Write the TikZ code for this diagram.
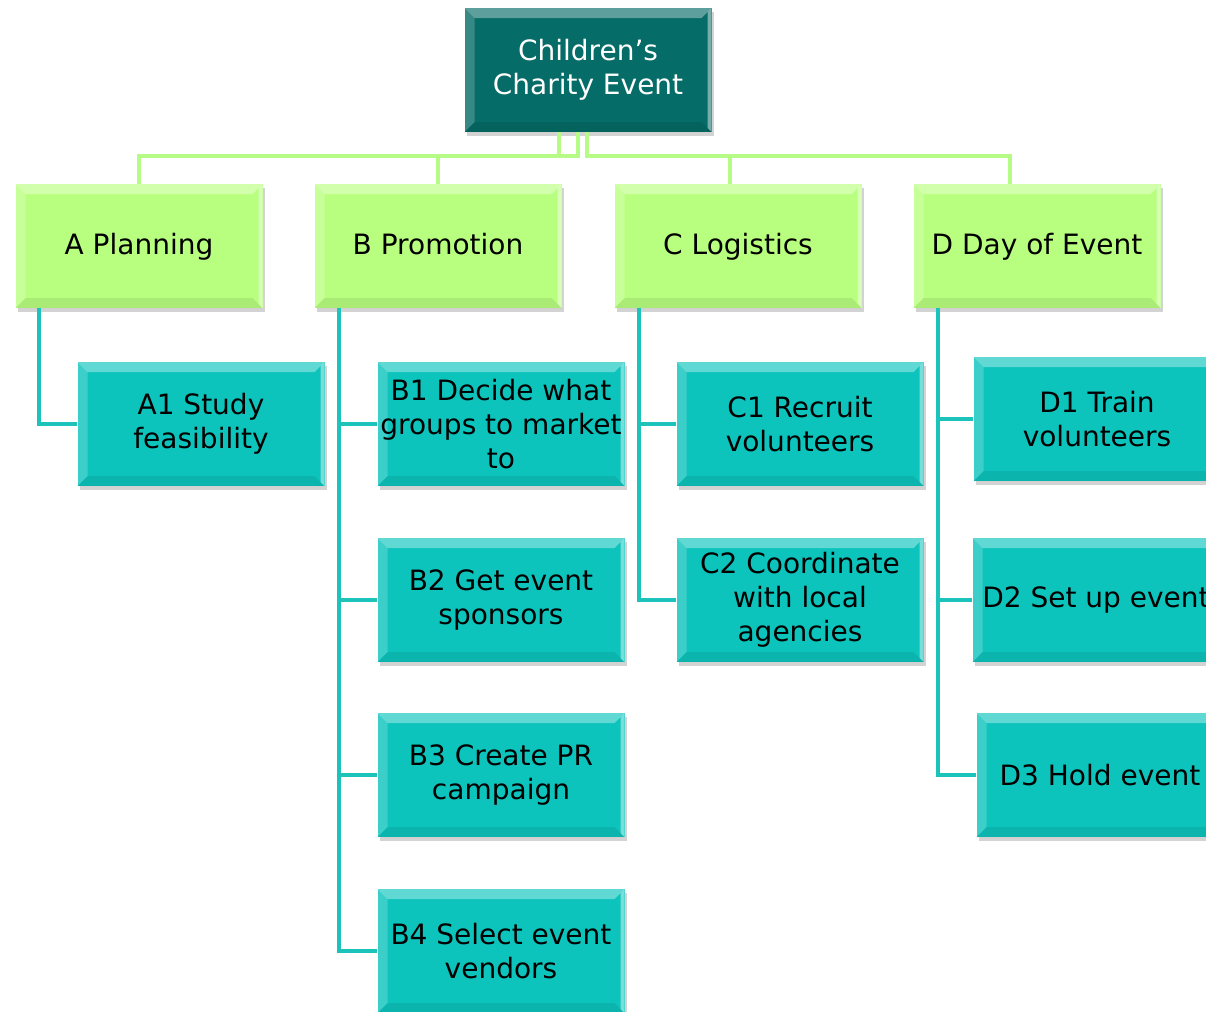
\documentclass[tikz,border=0pt]{standalone}
\usepackage{fontspec}
\setmainfont{DejaVu Sans}
\usepackage{tikz}
\usetikzlibrary{calc,shadows}
\definecolor{topc}{HTML}{066C67}
\definecolor{grnc}{HTML}{B9FF7F}
\definecolor{tealc}{HTML}{0CC4BC}
\definecolor{glinec}{HTML}{B6FB86}
\definecolor{tlinec}{HTML}{1CC3BA}
\tikzset{
  bevel/.style={path picture={
    \fill[white,opacity=.35] (path picture bounding box.north west) -- (path picture bounding box.north east)
      -- ([shift={(-5pt,-5pt)}]path picture bounding box.north east) -- ([shift={(5pt,-5pt)}]path picture bounding box.north west) -- cycle;
    \fill[white,opacity=.2] (path picture bounding box.north west) -- ([shift={(5pt,-5pt)}]path picture bounding box.north west)
      -- ([shift={(5pt,5pt)}]path picture bounding box.south west) -- (path picture bounding box.south west) -- cycle;
    \fill[white,opacity=.45] (path picture bounding box.north east) -- ([shift={(-2pt,-2pt)}]path picture bounding box.north east)
      -- ([shift={(-2pt,2pt)}]path picture bounding box.south east) -- (path picture bounding box.south east) -- cycle;
    \fill[black,opacity=.08] (path picture bounding box.south west) -- ([shift={(5pt,5pt)}]path picture bounding box.south west)
      -- ([shift={(-5pt,5pt)}]path picture bounding box.south east) -- (path picture bounding box.south east) -- cycle;
  }},
  boxbase/.style={rectangle,bevel,align=center,inner sep=1pt,minimum width=123.5pt,minimum height=62pt,
    font=\fontsize{14}{17}\selectfont,drop shadow={shadow xshift=1pt,shadow yshift=-2pt,opacity=.35}},
  topbox/.style={boxbase,fill=topc,text=white},
  phase/.style={boxbase,fill=grnc,text height=1em,text depth=.15em},
  task/.style={boxbase,fill=tealc},
  gline/.style={glinec,line width=2pt},
  tline/.style={tlinec,line width=2pt}
}
\begin{document}
\begin{tikzpicture}[x=0.5pt,y=-0.5pt]
\useasboundingbox (0,0) rectangle (1206,1012);
\clip (0,0) rectangle (1206,1012);
% top
\node[topbox] (top) at (588,70) {Children’s\\Charity Event};
% phases
\node[phase] (A) at (139,246) {A Planning};
\node[phase] (B) at (438,246) {B Promotion};
\node[phase] (C) at (738,246) {C Logistics};
\node[phase] (D) at (1037,246) {D Day of Event};
% tasks
\node[task] (A1) at (201,424) {A1 Study\\feasibility};
\node[task] (B1) at (501,424) {B1 Decide what\\groups to market\\to};
\node[task] (B2) at (501,600) {B2 Get event\\sponsors};
\node[task] (B3) at (501,775) {B3 Create PR\\campaign};
\node[task] (B4) at (501,951) {B4 Select event\\vendors};
\node[task] (C1) at (800,424) {C1 Recruit\\volunteers};
\node[task] (C2) at (800,600) {C2 Coordinate\\with local\\agencies};
\node[task] (D1) at (1097,419) {D1 Train\\volunteers};
\node[task] (D2) at (1096,600) {D2 Set up event};
\node[task] (D3) at (1100,775) {D3 Hold event};
% top to phases
\draw[gline] ([xshift=-14.5pt]top.south) -- ++(0,24) -| (A.north);
\draw[gline] ([xshift=-5pt]top.south) -- ++(0,24) -| (B.north);
\draw[gline] ([xshift=-0.5pt]top.south) -- ++(0,24) -| ([xshift=-4pt]C.north);
\draw[gline] ([xshift=-0.5pt]top.south) -- ++(0,24) -| ([xshift=-13.5pt]D.north);
% phases to tasks
\draw[tline] ([xshift=12pt]A.south west) |- (A1.west);
\foreach \k in {1,...,4}
  \draw[tline] ([xshift=12.5pt]B.south west) |- (B\k.west);
\foreach \k in {1,2}
  \draw[tline] ([xshift=12.5pt]C.south west) |- (C\k.west);
\foreach \k in {1,2,3}
  \draw[tline] ([xshift=12.5pt]D.south west) |- (D\k.west);
\end{tikzpicture}
\end{document}
